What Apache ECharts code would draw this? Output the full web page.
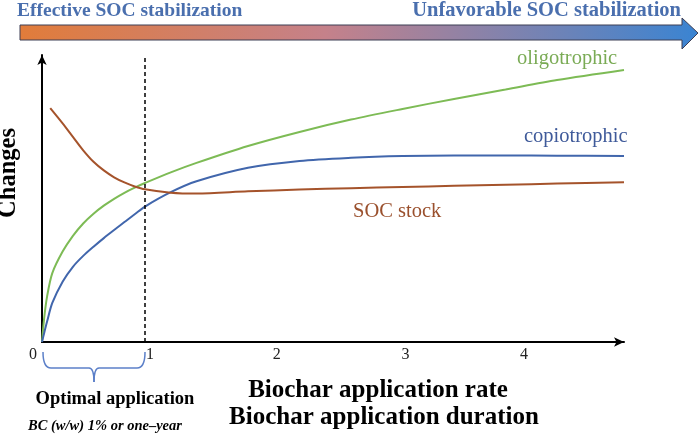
<!DOCTYPE html>
<html>
<head>
<meta charset="utf-8">
<script src="https://cdn.jsdelivr.net/npm/echarts@6/dist/echarts.min.js"></script>
<style>
html,body{margin:0;padding:0;background:#fff}
#main{width:700px;height:434px}
</style>
</head>
<body>
<div id="main"></div>
<script>
// x = biochar rate/duration (1 = optimal, dashed line)
var rateX = [0, 0.02, 0.05, 0.1, 0.2, 0.3, 0.4, 0.5, 0.6, 0.7, 0.8, 0.9, 1, 1.25, 1.5, 2, 2.5, 3, 3.5, 4, 4.5, 5, 5.65];
var oligoY = [0, 8, 16, 24, 31.5, 37, 41.3, 44.7, 47.5, 49.9, 52, 53.8, 55.4, 59.1, 62.4, 68.3, 73.2, 77.5, 81.2, 84.7, 88, 91.3, 94.8];
var copioY = [0, 3, 7.2, 13.6, 21, 26.2, 30, 33.2, 36.2, 39, 41.8, 44.5, 47.2, 52.2, 56, 60.7, 63.1, 64.2, 64.8, 65, 65, 64.9, 64.8];
var socX = [0.08, 0.2, 0.3, 0.4, 0.5, 0.6, 0.7, 0.8, 0.9, 1, 1.25, 1.5, 2, 2.5, 3, 3.5, 4, 4.5, 5, 5.65];
var socY = [81.5, 76.2, 71.5, 66.8, 62.8, 59.8, 57.4, 55.6, 54.2, 53.2, 52, 51.7, 52.5, 53.1, 53.6, 54, 54.4, 54.8, 55.2, 55.7];
// tick positions as drawn in the figure, and their labels
var tickX = [0, 1, 2.28, 3.53, 4.68];
var tickLabels = ['0', '1', '2', '3', '4'];
var optimalX = 1;

function pairs(xs, ys) {
    var out = [];
    for (var i = 0; i < xs.length; i++) out.push([xs[i], ys[i]]);
    return out;
}

var serif = 'Liberation Serif';
var myChart = echarts.init(document.getElementById('main'));

var option = {
    backgroundColor: '#fff',
    animation: false,
    grid: {left: 42, right: 76, top: 55, bottom: 92},
    xAxis: {
        type: 'value',
        min: 0,
        max: 5.65,
        splitLine: {show: false},
        axisTick: {show: false},
        axisLine: {
            lineStyle: {color: '#000', width: 2},
            symbol: ['none', 'arrow'],
            symbolSize: [7, 10]
        },
        axisLabel: {
            customValues: tickX,
            margin: 5,
            fontFamily: serif,
            fontSize: 16,
            color: '#222',
            formatter: function (v) {
                var i = tickX.indexOf(v);
                var t = i < 0 ? '' : tickLabels[i];
                if (i === 0) return '{z|' + t + '}';
                if (i === 1) return '{o|' + t + '}';
                return t;
            },
            rich: {
                z: {fontFamily: serif, fontSize: 16, color: '#222', padding: [0, 18, 0, 0]},
                o: {fontFamily: serif, fontSize: 16, color: '#222', padding: [0, 0, 0, 10]}
            }
        }
    },
    yAxis: {
        type: 'value',
        min: 0,
        max: 100,
        splitLine: {show: false},
        axisTick: {show: false},
        axisLabel: {show: false},
        axisLine: {
            show: true,
            lineStyle: {color: '#000', width: 2},
            symbol: ['none', 'arrow'],
            symbolSize: [7, 10]
        }
    },
    series: [
        {
            name: 'oligotrophic',
            type: 'line',
            data: pairs(rateX, oligoY),
            smooth: 0.3,
            showSymbol: false,
            lineStyle: {color: '#7dbb55', width: 2},
            markLine: {
                silent: true,
                symbol: ['none', 'none'],
                label: {show: false},
                lineStyle: {color: '#000', type: [4, 3], width: 1.5},
                data: [{xAxis: optimalX}]
            }
        },
        {
            name: 'copiotrophic',
            type: 'line',
            data: pairs(rateX, copioY),
            smooth: 0.3,
            showSymbol: false,
            lineStyle: {color: '#4166ac', width: 2}
        },
        {
            name: 'SOC stock',
            type: 'line',
            data: pairs(socX, socY),
            smooth: 0.3,
            showSymbol: false,
            lineStyle: {color: '#a5532b', width: 2}
        }
    ]
};
myChart.setOption(option);

// annotations: gradient arrow, brace, titles
var p0 = myChart.convertToPixel({gridIndex: 0}, [0, 0]);
var p1 = myChart.convertToPixel({gridIndex: 0}, [optimalX, 0]);
var bx0 = p0[0] + 1, bx1 = p1[0], bm = (bx0 + bx1) / 2;
var by0 = p0[1] + 10, by1 = by0 + 16, by2 = by1 + 14;
var braceStyle = {fill: 'none', stroke: '#5b7fc8', lineWidth: 1.5};
function quad(x1, y1, cx, cy, x2, y2) {
    return {type: 'bezierCurve', shape: {x1: x1, y1: y1, cpx1: cx, cpy1: cy, x2: x2, y2: y2}, style: braceStyle};
}
function seg(x1, y1, x2, y2) {
    return {type: 'line', shape: {x1: x1, y1: y1, x2: x2, y2: y2}, style: braceStyle};
}

var titleBlue = '#4a6fae';
function txt(x, y, text, font, fill, align) {
    return {
        type: 'text', x: x, y: y,
        style: {text: text, font: font, fill: fill, align: align || 'left', verticalAlign: 'middle'}
    };
}

myChart.setOption({
    graphic: [
        {
            type: 'polygon',
            shape: {points: [[20, 25], [682, 25], [682, 18], [698, 33], [682, 49], [682, 40], [20, 40]]},
            style: {
                fill: {
                    type: 'linear', x: 0, y: 0, x2: 1, y2: 0,
                    colorStops: [
                        {offset: 0, color: '#e17c3a'},
                        {offset: 0.45, color: '#c5818a'},
                        {offset: 1, color: '#3a84d2'}
                    ]
                },
                stroke: '#3d3f55',
                lineWidth: 1
            }
        },
        txt(17, 11, 'Effective SOC stabilization', 'bold 19.5px "Liberation Serif"', titleBlue),
        txt(681, 11, 'Unfavorable SOC stabilization', 'bold 20.5px "Liberation Serif"', titleBlue, 'right'),
        txt(517, 59, 'oligotrophic', '20.5px "Liberation Serif"', '#7aab55'),
        txt(524, 137, 'copiotrophic', '20.5px "Liberation Serif"', '#3f5a9a'),
        txt(353, 212, 'SOC stock', '20.5px "Liberation Serif"', '#9a502d'),
        {
            type: 'text', x: 9, y: 173, rotation: Math.PI / 2,
            style: {text: 'Changes', font: 'bold 24.5px "Liberation Serif"', fill: '#000', align: 'center', verticalAlign: 'middle'}
        },
        quad(bx0, by0, bx0, by1, bx0 + 8, by1),
        seg(bx0 + 8, by1, bm - 5, by1),
        quad(bm - 5, by1, bm, by1, bm, by2),
        quad(bm, by2, bm, by1, bm + 5, by1),
        seg(bm + 5, by1, bx1 - 8, by1),
        quad(bx1 - 8, by1, bx1, by1, bx1, by0),
        txt(115, 399, 'Optimal application', 'bold 18.5px "Liberation Serif"', '#000', 'center'),
        txt(105, 426, 'BC (w/w) 1% or one\u2013year', 'italic bold 14.5px "Liberation Serif"', '#000', 'center'),
        txt(378, 391, 'Biochar application rate', 'bold 25px "Liberation Serif"', '#000', 'center'),
        txt(384, 418, 'Biochar application duration', 'bold 25px "Liberation Serif"', '#000', 'center')
    ]
});
</script>
</body>
</html>
